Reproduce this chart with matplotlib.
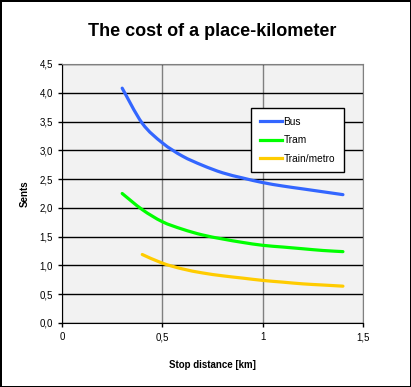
import matplotlib.pyplot as plt
from matplotlib.ticker import FuncFormatter
from matplotlib.path import Path
from matplotlib.patches import PathPatch
from matplotlib.lines import Line2D

plt.rcParams['font.family'] = ['Liberation Sans', 'DejaVu Sans']

dist = [0.3, 0.4, 0.5, 0.6, 0.7, 0.8, 0.9, 1.0, 1.1, 1.2, 1.3, 1.4]
bus = [4.08, 3.47, 3.13, 2.90, 2.74, 2.61, 2.52, 2.44, 2.38, 2.33, 2.28, 2.23]
tram = [2.25, 1.97, 1.76, 1.63, 1.53, 1.46, 1.40, 1.35, 1.32, 1.29, 1.26, 1.24]
dist_train = [0.4, 0.5, 0.6, 0.7, 0.8, 0.9, 1.0, 1.1, 1.2, 1.3, 1.4]
train = [1.19, 1.04, 0.94, 0.87, 0.82, 0.78, 0.74, 0.71, 0.68, 0.66, 0.64]

names = ['Bus', 'Tram', 'Train/metro']
colors = ['#3366ff', '#00ff00', '#ffcc00']


def smooth_path(xs, ys):
    # Excel-style smoothed line: cubic Bezier segments through the points
    verts = [(xs[0], ys[0])]
    codes = [Path.MOVETO]
    n = len(xs)
    for i in range(n - 1):
        x0, y0 = xs[max(i - 1, 0)], ys[max(i - 1, 0)]
        x1, y1 = xs[i], ys[i]
        x2, y2 = xs[i + 1], ys[i + 1]
        x3, y3 = xs[min(i + 2, n - 1)], ys[min(i + 2, n - 1)]
        c1 = (x1 + (x2 - x0) / 6, y1 + (y2 - y0) / 6)
        c2 = (x2 - (x3 - x1) / 6, y2 - (y3 - y1) / 6)
        verts += [c1, c2, (x2, y2)]
        codes += [Path.CURVE4] * 3
    return Path(verts, codes)


fig = plt.figure(figsize=(4.11, 3.87), dpi=100)
fig.patch.set_edgecolor('black')
fig.patch.set_linewidth(2)
ax = fig.add_axes([62/411, 1 - 323/387, 301/411, 259/387])
ax.set_facecolor('#f2f2f2')

for xs, ys, c in [(dist, bus, colors[0]), (dist, tram, colors[1]), (dist_train, train, colors[2])]:
    ax.add_patch(PathPatch(smooth_path(xs, ys), facecolor='none', edgecolor=c,
                           lw=2.3, capstyle='round', joinstyle='round', zorder=3))

ax.set_xlim(0, 1.5)
ax.set_ylim(0, 4.5)
ax.set_xticks([0, 0.5, 1, 1.5])
ax.set_yticks([i * 0.5 for i in range(10)])
ax.xaxis.set_major_formatter(FuncFormatter(lambda v, p: ('%g' % v).replace('.', ',')))
ax.yaxis.set_major_formatter(FuncFormatter(lambda v, p: ('%.1f' % v).replace('.', ',')))
ax.tick_params(labelsize=7, length=3, width=1, direction='out', color='black')

ax.yaxis.grid(True, color='black', lw=1)
ax.xaxis.grid(True, color='#808080', lw=1)
ax.set_axisbelow(True)
for s in ['top', 'right']:
    ax.spines[s].set_color('#808080')
for s in ['left', 'bottom']:
    ax.spines[s].set_color('black')

ax.set_xlabel('Stop distance [km]', fontsize=7, fontweight='bold', labelpad=13)
ax.set_ylabel('Sents', fontsize=7, fontweight='bold', labelpad=7)
fig.text(212.5/411, 1 - 32/387, 'The cost of a place-kilometer', fontsize=13,
         fontweight='bold', ha='center', va='center')

handles = [Line2D([], [], color=c, lw=2.3) for c in colors]
leg = ax.legend(handles, names, loc='upper left',
                bbox_to_anchor=((251 - 62) / 301, 1 - (108 - 64) / 259),
                fontsize=7.3, fancybox=False, framealpha=1, edgecolor='black',
                handlelength=2.2, handletextpad=0.15, labelspacing=0.85,
                borderpad=0.85, borderaxespad=0)
leg.get_frame().set_linewidth(1)

fig.savefig('out.png', dpi=100, edgecolor=fig.get_edgecolor())
